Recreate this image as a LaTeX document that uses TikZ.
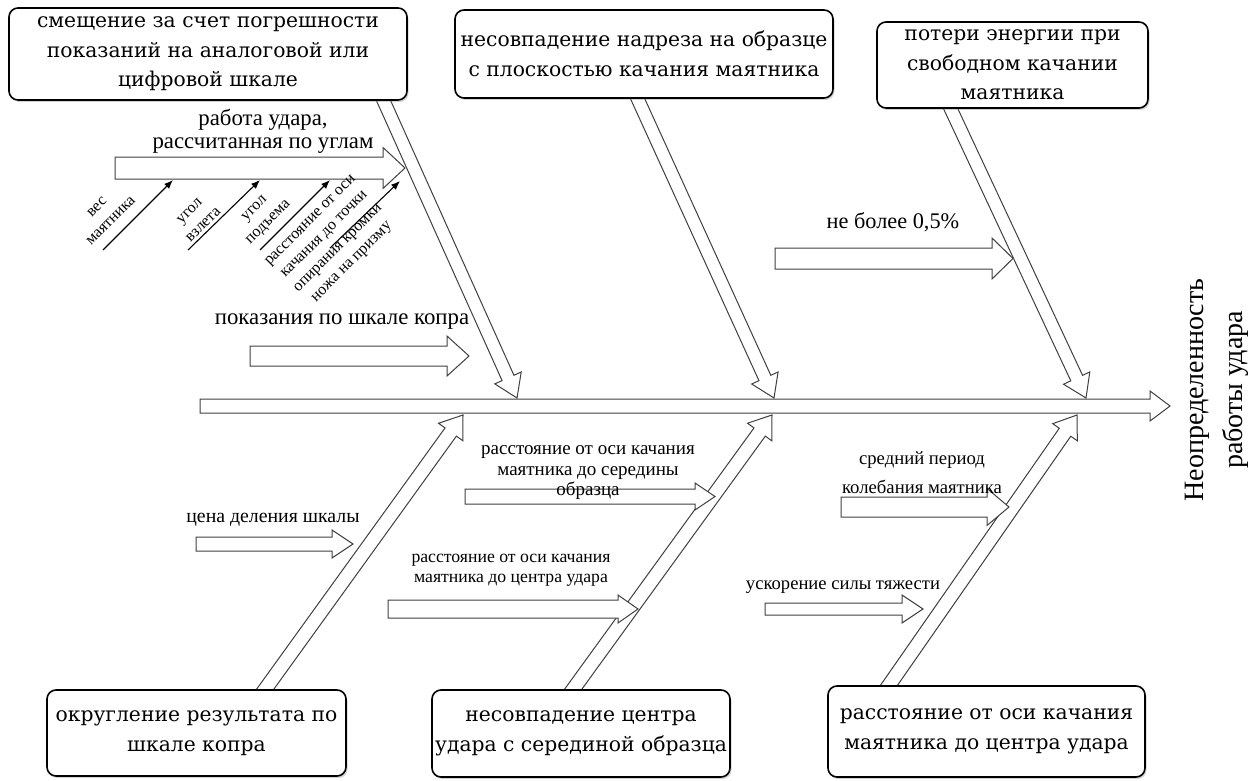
\documentclass[tikz,border=0pt]{standalone}
\usepackage{fontspec}
\setmainfont{Liberation Serif}
\newfontfamily\boxfont{DejaVu Serif}
\usetikzlibrary{calc,shadows,arrows.meta}
\tikzset{
  barr/.style={draw=black!75, line width=1pt, fill=white, line join=miter},
  thin/.style={draw=black, line width=1.1pt, -{Latex[length=9pt,width=7pt]}},
  cause/.style={draw=black, line width=1.6pt, fill=white, rounded corners=9pt,
    drop shadow={shadow xshift=1.5pt, shadow yshift=-2pt, opacity=0.35},
    align=center, inner sep=0pt, font=\boxfont\fontsize{20.3}{29.5}\selectfont},
  lbl/.style={align=center, inner sep=0pt, font=\fontsize{19.5}{20.5}\selectfont},
  small/.style={align=center, inner sep=0pt, rotate=45, font=\fontsize{16}{19.5}\selectfont},
}
\newcommand\blockarr[5]{%
  \path ($(#2)!#5!(#1)$) coordinate (bH);
  \draw[barr] ($(#1)!#3!90:(#2)$) -- ($(bH)!#3!90:(#2)$) -- ($(bH)!#4!90:(#2)$) -- (#2)
    -- ($(bH)!#4!-90:(#2)$) -- ($(bH)!#3!-90:(#2)$) -- ($(#1)!#3!-90:(#2)$) -- cycle;
}
\begin{document}
\begin{tikzpicture}[x=1pt,y=-1pt]
\useasboundingbox (0,0) rectangle (1258,781);
% spine
\coordinate (s0) at (200,406); \coordinate (s1) at (1170,406);
\blockarr{s0}{s1}{7pt}{15pt}{20pt}
% main diagonal arrows
\coordinate (a1s) at (381,95);  \coordinate (a1e) at (517,398);
\coordinate (a2s) at (635,93);  \coordinate (a2e) at (774,398);
\coordinate (a3s) at (948,103); \coordinate (a3e) at (1086,398);
\coordinate (a4s) at (261,695); \coordinate (a4e) at (463,415);
\coordinate (a5s) at (569,695); \coordinate (a5e) at (772,415);
\coordinate (a6s) at (885,691); \coordinate (a6e) at (1077,415);
\blockarr{a1s}{a1e}{6.5pt}{14.5pt}{22pt}
\blockarr{a2s}{a2e}{6.5pt}{14.5pt}{22pt}
\blockarr{a3s}{a3e}{6.5pt}{14.5pt}{22pt}
\blockarr{a4s}{a4e}{7pt}{15pt}{21pt}
\blockarr{a5s}{a5e}{7pt}{15pt}{21pt}
\blockarr{a6s}{a6e}{7pt}{15pt}{21pt}
% horizontal sub-cause arrows
\coordinate (h1s) at (115,168);   \coordinate (h1e) at (405,168);
\coordinate (h2s) at (250,356);   \coordinate (h2e) at (469,356);
\coordinate (h3s) at (775,258.5); \coordinate (h3e) at (1013,258.5);
\coordinate (h4s) at (465,496.5); \coordinate (h4e) at (715,496.5);
\coordinate (h5s) at (196,544);   \coordinate (h5e) at (353,544);
\coordinate (h6s) at (388,609);   \coordinate (h6e) at (638,609);
\coordinate (h7s) at (841,507);   \coordinate (h7e) at (1009,507);
\coordinate (h8s) at (765,609);   \coordinate (h8e) at (923,609);
\blockarr{h1s}{h1e}{11pt}{20.5pt}{22pt}
\blockarr{h2s}{h2e}{10pt}{20pt}{22pt}
\blockarr{h3s}{h3e}{10.5pt}{20.5pt}{21pt}
\blockarr{h4s}{h4e}{7.5pt}{13.5pt}{20pt}
\blockarr{h5s}{h5e}{7pt}{14pt}{21pt}
\blockarr{h6s}{h6e}{9pt}{14pt}{20pt}
\blockarr{h7s}{h7e}{10pt}{18.5pt}{22pt}
\blockarr{h8s}{h8e}{6pt}{14pt}{21pt}
% thin arrows
\coordinate (t1s) at (103,250); \coordinate (t1e) at (173,180);
\coordinate (t2s) at (188,250); \coordinate (t2e) at (260,180);
\coordinate (t3s) at (260,250); \coordinate (t3e) at (330,180);
\coordinate (t4s) at (330,248); \coordinate (t4e) at (400,181);
\draw[thin] (t1s) -- (t1e);
\draw[thin] (t2s) -- (t2e);
\draw[thin] (t3s) -- (t3e);
\draw[thin] (t4s) -- (t4e);
% cause boxes
\node[cause, minimum width=398pt, minimum height=92pt] (b1) at (208,54)
  {смещение за счет погрешности\\показаний на аналоговой или\\цифровой шкале};
\node[cause, minimum width=378pt, minimum height=88pt] (b2) at (644,54)
  {несовпадение надреза на образце\\с плоскостью качания маятника};
\node[cause, minimum width=271pt, minimum height=86pt] (b3) at (1012.5,65)
  {потери энергии при\\свободном качании\\маятника};
\node[cause, minimum width=299pt, minimum height=86pt] (b4) at (196.5,733)
  {округление результата по\\шкале копра};
\node[cause, minimum width=298pt, minimum height=87pt] (b5) at (581,733.5)
  {несовпадение центра\\удара с серединой образца};
\node[cause, minimum width=317pt, minimum height=91pt] (b6) at (986.5,731.5)
  {расстояние от оси качания\\маятника до центра удара};
% labels
\node[lbl, font=\fontsize{22.8}{23}\selectfont] (l1) at (263,131) {работа удара,\\рассчитанная по углам};
\node[lbl, font=\fontsize{22.8}{23}\selectfont] (l2) at (342,322) {показания по шкале копра};
\node[lbl, font=\fontsize{22.3}{23}\selectfont] (l3) at (893,222) {не более 0,5\%};
\node[lbl, font=\fontsize{19}{20.5}\selectfont] (l4) at (588,473) {расстояние от оси качания\\маятника до середины\\образца};
\node[lbl, font=\fontsize{19.8}{21}\selectfont] (l5) at (273,520) {цена деления шкалы};
\node[lbl, font=\fontsize{17.7}{20}\selectfont] (l6) at (511,570) {расстояние от оси качания\\маятника до центра удара};
\node[lbl, font=\fontsize{18.7}{29}\selectfont] (l7) at (922,472.5) {средний период\\колебания маятника};
\node[lbl, font=\fontsize{18.6}{20}\selectfont] (l8) at (843,587) {ускорение силы тяжести};
\node[small] (r1) at (104,214) {вес\\маятника};
\node[small] (r2) at (196.5,218) {угол\\взлета};
\node[small] (r3) at (262,216) {угол\\подъема};
\node[small] (r4) at (332,242) {расстояние от оси\\качания до точки\\опирания кромки\\ножа на призму};
\node[lbl, rotate=90, font=\fontsize{28}{39}\selectfont] (title) at (1217,390) {Неопределенность\\работы удара};
\end{tikzpicture}
\end{document}
